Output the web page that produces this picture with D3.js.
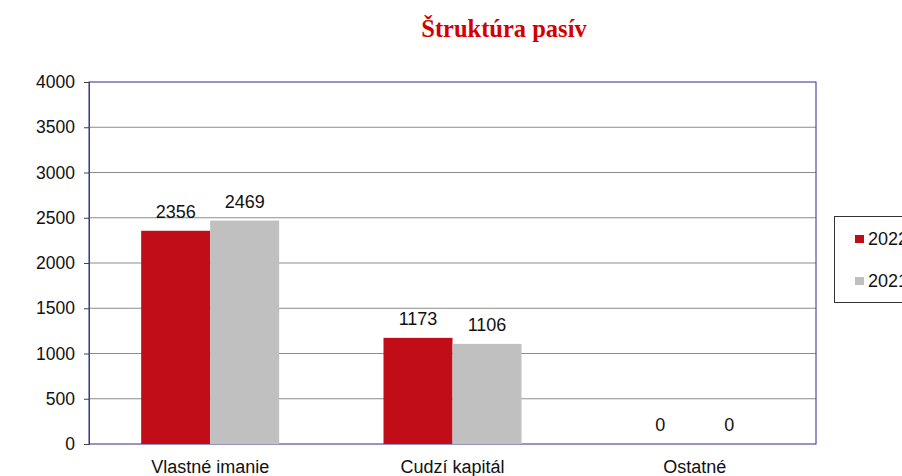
<!DOCTYPE html>
<html>
<head>
<meta charset="utf-8">
<script src="https://cdn.jsdelivr.net/npm/d3@7"></script>
<style>
  body { margin: 0; background: #fff; }
  svg { display: block; font-family: "Liberation Sans", Arial, sans-serif; }
</style>
</head>
<body>
<div id="chart"></div>
<script>
// údaje
const categories = ["Vlastné imanie", "Cudzí kapitál", "Ostatné"];
const seriesNames = ["2022", "2021"];
const values2022 = [2356, 1173, 0];
const values2021 = [2469, 1106, 0];
const yTicks = [0, 500, 1000, 1500, 2000, 2500, 3000, 3500, 4000];
const colors = ["#C00D17", "#C0C0C0"];

const W = 902, H = 476;
const plot = { left: 89, right: 816, top: 82, bottom: 444 };
const fs = "18px";

const svg = d3.select("#chart").append("svg").attr("width", W).attr("height", H);

const data = categories.map((c, i) => ({ cat: c, vals: [values2022[i], values2021[i]] }));

const x0 = d3.scaleBand().domain(categories).range([plot.left, plot.right]).padding(0);
const x1 = d3.scaleBand().domain(seriesNames).range([0, x0.bandwidth()]).paddingInner(0).paddingOuter(0.756);
const y = d3.scaleLinear().domain([0, 4000]).range([plot.bottom, plot.top]);

// mriežka
svg.append("g").selectAll("line").data(yTicks.filter(t => t > 0 && t < 4000)).join("line")
  .attr("x1", plot.left).attr("x2", plot.right)
  .attr("y1", d => y(d)).attr("y2", d => y(d))
  .attr("stroke", "#8c8c8c").attr("stroke-width", 1);

// rámik plochy
svg.append("rect")
  .attr("x", plot.left).attr("y", plot.top)
  .attr("width", plot.right - plot.left).attr("height", plot.bottom - plot.top)
  .attr("fill", "none").attr("stroke", "#2a2a8c").attr("stroke-width", 1);

// stĺpce
const groups = svg.append("g").selectAll("g").data(data).join("g")
  .attr("transform", d => `translate(${x0(d.cat)},0)`);

groups.selectAll("rect").data(d => d.vals.map((v, i) => ({ s: seriesNames[i], v, i }))).join("rect")
  .attr("x", d => x1(d.s)).attr("width", x1.bandwidth())
  .attr("y", d => y(d.v)).attr("height", d => y(0) - y(d.v))
  .attr("fill", d => colors[d.i]);

groups.selectAll("text").data(d => d.vals.map((v, i) => ({ s: seriesNames[i], v, i }))).join("text")
  .attr("x", d => x1(d.s) + x1.bandwidth() / 2)
  .attr("y", d => y(d.v) - 13)
  .attr("text-anchor", "middle")
  .style("font-size", fs).style("fill", "#111")
  .text(d => d.v);

// os y
const yAxis = svg.append("g").attr("transform", `translate(${plot.left},0)`)
  .call(d3.axisLeft(y).tickValues(yTicks).tickSize(5).tickPadding(9).tickFormat(d3.format("d")));
yAxis.select(".domain").attr("stroke", "#444");
yAxis.selectAll(".tick line").attr("stroke", "#444");
yAxis.selectAll(".tick text").style("font-size", "17.5px").style("fill", "#111").attr("font-family", null);

// os x - popisky
svg.append("g").selectAll("text").data(categories).join("text")
  .attr("x", d => x0(d) + x0.bandwidth() / 2)
  .attr("y", 473)
  .attr("text-anchor", "middle")
  .style("font-size", fs).style("fill", "#111")
  .text(d => d);

// nadpis
svg.append("text")
  .attr("x", 504).attr("y", 37)
  .attr("text-anchor", "middle")
  .style("font-family", "'Liberation Serif', 'Times New Roman', serif")
  .style("font-size", "24.5px").style("font-weight", "bold").style("fill", "#D40000")
  .text("Štruktúra pasív");

// legenda (v origináli je orezaná pravým okrajom)
const leg = svg.append("g");
leg.append("rect").attr("x", 834.5).attr("y", 216.5).attr("width", 80).attr("height", 86)
  .attr("fill", "#fff").attr("stroke", "#333").attr("stroke-width", 1);
seriesNames.forEach((s, i) => {
  const yy = 235 + i * 42;
  leg.append("rect").attr("x", 855).attr("y", yy).attr("width", 9).attr("height", 8).attr("fill", colors[i]);
  leg.append("text").attr("x", 868).attr("y", yy + 10)
    .style("font-size", fs).style("fill", "#111").text(s);
});
</script>
</body>
</html>
